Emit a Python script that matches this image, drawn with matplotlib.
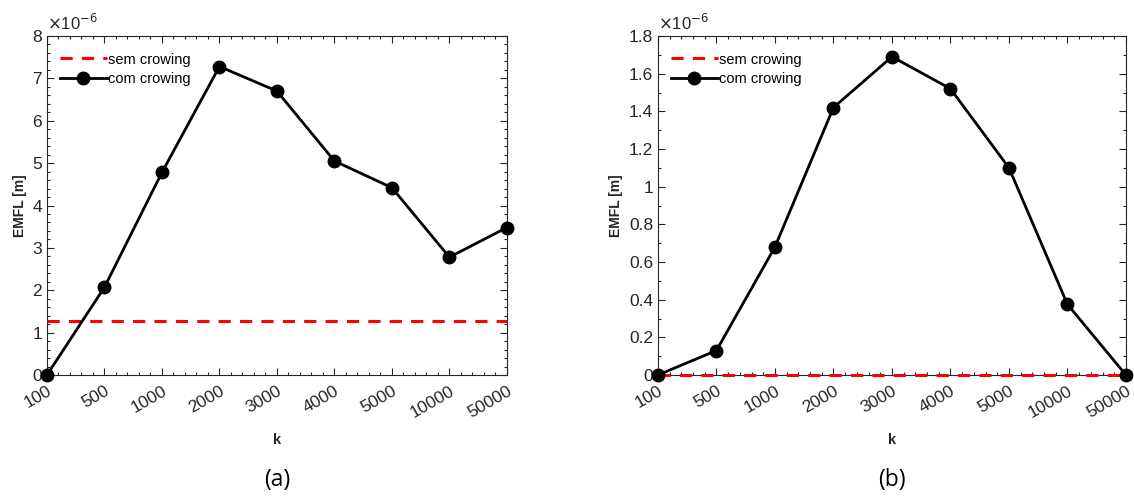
import matplotlib.pyplot as plt
from matplotlib.ticker import MultipleLocator

K_LABELS = ["100", "500", "1000", "2000", "3000", "4000", "5000", "10000", "50000"]

# EMFL in units of 1e-6 m
EMFL_A_COM = [0.0, 2.07, 4.78, 7.28, 6.70, 5.05, 4.42, 2.78, 3.48]
EMFL_A_SEM = 1.27
EMFL_B_COM = [0.0, 0.13, 0.68, 1.42, 1.69, 1.52, 1.10, 0.375, 0.0]
EMFL_B_SEM = 0.0

plt.rcParams["font.family"] = ["Liberation Sans", "DejaVu Sans"]
TICK_GREY = "#262626"


def draw_panel(ax, com, sem, ymax, ymajor, yminor, caption):
    x = list(range(len(K_LABELS)))
    ax.plot([x[0], x[-1]], [sem, sem], "--", color="#ff0000", lw=2.2,
            dashes=(4, 3), label="sem crowing", zorder=3, clip_on=False)
    ax.plot(x, com, "-o", color="black", lw=2.0, ms=9, label="com crowing",
            zorder=4, clip_on=False)
    ax.set_xlim(x[0], x[-1])
    ax.set_ylim(0, ymax)
    ax.set_xticks(x)
    ax.set_xticklabels(K_LABELS, rotation=30, ha="right", rotation_mode="anchor")
    ax.xaxis.set_minor_locator(MultipleLocator(0.2))
    ax.yaxis.set_major_locator(MultipleLocator(ymajor))
    ax.yaxis.set_minor_locator(MultipleLocator(yminor))
    ax.yaxis.set_major_formatter(plt.FuncFormatter(lambda v, p: f"{v:g}"))
    ax.tick_params(which="both", direction="in", top=True, right=True,
                   colors=TICK_GREY, labelsize=12.5, width=0.8)
    ax.tick_params(which="major", length=5)
    ax.tick_params(which="minor", length=2.5)
    ax.tick_params(axis="x", pad=6)
    for s in ax.spines.values():
        s.set_color(TICK_GREY)
        s.set_linewidth(0.8)
    ax.set_xlabel("k", fontsize=10.5, fontweight="bold", color=TICK_GREY, labelpad=9)
    ax.set_ylabel("EMFL [m]", fontsize=10, fontweight="bold", color=TICK_GREY, labelpad=4)
    ax.text(0.0, 1.01, r"$\times$10$^{-6}$", transform=ax.transAxes,
            fontsize=12, color=TICK_GREY, va="bottom", ha="left")
    ax.legend(loc="upper left", frameon=False, fontsize=10.5, handlelength=3.2,
              handletextpad=0.1, borderaxespad=0.5, labelspacing=0.35,
              bbox_to_anchor=(0.0, 0.99))
    ax.text(0.5, -0.31, caption, transform=ax.transAxes, ha="center",
            va="center", fontsize=16.5, family=["Open Sans", "DejaVu Sans"])


fig = plt.figure(figsize=(11.34, 5.0), dpi=100)
ax_a = fig.add_axes([0.0414, 0.25, 0.4056, 0.678])
ax_b = fig.add_axes([0.5802, 0.25, 0.4127, 0.678])

draw_panel(ax_a, EMFL_A_COM, EMFL_A_SEM, 8, 1, 0.2, "(a)")
draw_panel(ax_b, EMFL_B_COM, EMFL_B_SEM, 1.8, 0.2, 0.1, "(b)")

fig.savefig("out.png", dpi=100)
